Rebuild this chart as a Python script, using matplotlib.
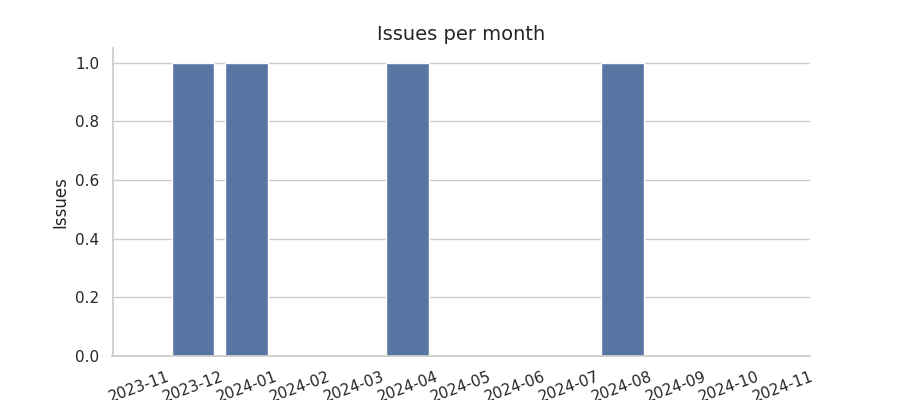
import matplotlib
matplotlib.use("Agg")
import matplotlib.pyplot as plt
import seaborn as sns
import pandas as pd

months = ["2023-11", "2023-12", "2024-01", "2024-02", "2024-03", "2024-04", "2024-05",
          "2024-06", "2024-07", "2024-08", "2024-09", "2024-10", "2024-11"]
issues = [0, 1, 1, 0, 0, 1, 0, 0, 0, 1, 0, 0, 0]

sns.set_theme(style="whitegrid")
df = pd.DataFrame({"month": months, "issues": issues})
fig, ax = plt.subplots(figsize=(9, 4), dpi=100)
sns.barplot(data=df, x="month", y="issues", color="#4c72b0", ax=ax)
ax.set_title("Issues per month", fontsize=14)
ax.set_ylabel("Issues")
ax.set_xlabel("")
plt.setp(ax.get_xticklabels(), rotation=20)
sns.despine(ax=ax)
fig.savefig("out.png")
